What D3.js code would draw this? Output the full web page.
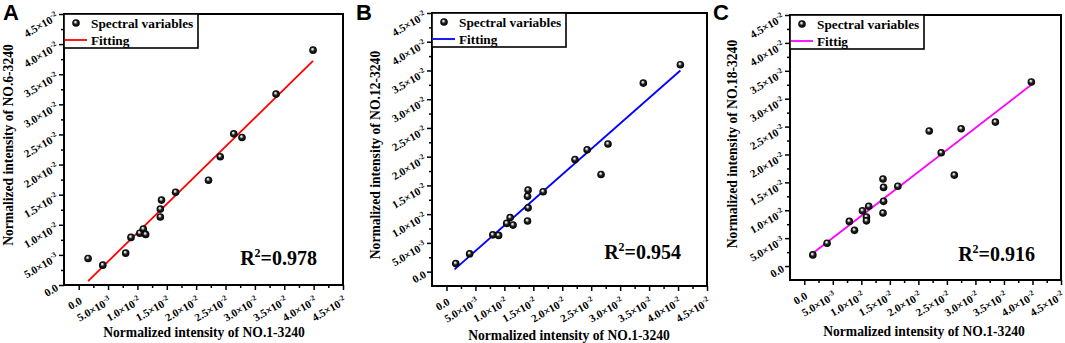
<!DOCTYPE html>
<html><head><meta charset="utf-8">
<script src="https://cdn.jsdelivr.net/npm/d3@7"></script>
<style>body{margin:0;background:#fff} svg{display:block}</style>
</head><body><svg id="c" width="1065" height="343"></svg>
<script>
// ---- data ----
const tickValues   = [0, 0.005, 0.01, 0.015, 0.02, 0.025, 0.03, 0.035, 0.04, 0.045];
const tickMantissa = ["0.0", "5.0", "1.0", "1.5", "2.0", "2.5", "3.0", "3.5", "4.0", "4.5"];
const tickExponent = ["", "-3", "-2", "-2", "-2", "-2", "-2", "-2", "-2", "-2"];

const xA = [0.0016, 0.0041, 0.0080, 0.0089, 0.0104, 0.0110, 0.0114, 0.0139, 0.0139, 0.0141, 0.0165, 0.0221, 0.0241, 0.0264, 0.0278, 0.0336, 0.0399];
const yA = [0.0044, 0.0033, 0.0053, 0.0079, 0.0086, 0.0093, 0.0084, 0.0113, 0.0126, 0.0141, 0.0154, 0.0174, 0.0213, 0.0251, 0.0245, 0.0317, 0.0390];

const xB = [0.0016, 0.0040, 0.0080, 0.0090, 0.0104, 0.0110, 0.0115, 0.0140, 0.0141, 0.0140, 0.0141, 0.0167, 0.0222, 0.0243, 0.0267, 0.0279, 0.0340, 0.0404];
const yB = [0.0014, 0.0031, 0.0064, 0.0063, 0.0084, 0.0094, 0.0081, 0.0088, 0.0111, 0.0131, 0.0142, 0.0139, 0.0195, 0.0212, 0.0169, 0.0222, 0.0328, 0.0360];

const xC = [0.0015, 0.0040, 0.0079, 0.0088, 0.0102, 0.0109, 0.0109, 0.0113, 0.0138, 0.0139, 0.0139, 0.0138, 0.0164, 0.0219, 0.0240, 0.0263, 0.0275, 0.0335, 0.0398];
const yC = [0.0020, 0.0041, 0.0080, 0.0064, 0.0099, 0.0088, 0.0081, 0.0107, 0.0095, 0.0116, 0.0141, 0.0156, 0.0143, 0.0242, 0.0203, 0.0163, 0.0246, 0.0258, 0.0330];

const fitXA = [0.0016, 0.0399], fitYA = [0.00066, 0.0372];
const fitXB = [0.0014, 0.0404], fitYB = [0.0004, 0.0350];
const fitXC = [0.0015, 0.0398], fitYC = [0.0023, 0.0325];

const yTitles = ["Normalized intensity of NO.6-3240", "Normalized intensity of NO.12-3240", "Normalized intensity of NO.18-3240"];
const xTitle = "Normalized intensity of NO.1-3240";
const fitLabels = ["Fitting", "Fitting", "Fittig"];
const r2Labels = ["0.978", "0.954", "0.916"];
const panelLetters = ["A", "B", "C"];

// ---- layout ----
const panels = [
  {x: xA, y: yA, fx: fitXA, fy: fitYA, color: "#ff0000", yDom: [0, 0.045],
   L: 64, R: 343, T: 14, B: 285, letterX: 3, ytX: 13, ytY: 145, xtX: 204, xtY: 337, r2Y: 265},
  {x: xB, y: yB, fx: fitXB, fy: fitYB, color: "#0000ff", yDom: [-0.0025, 0.045],
   L: 432, R: 707, T: 13, B: 286, letterX: 356, ytX: 380, ytY: 155, xtX: 569, xtY: 340, r2Y: 259},
  {x: xC, y: yC, fx: fitXC, fy: fitYC, color: "#ff00ff", yDom: [-0.0025, 0.045],
   L: 790, R: 1061, T: 15, B: 280, letterX: 713, ytX: 737, ytY: 144, xtX: 924, xtY: 336, r2Y: 261}
];

const svg = d3.select("#c");
const defs = svg.append("defs");
const g = defs.append("radialGradient").attr("id", "sph")
  .attr("cx", 0.5).attr("cy", 0.5).attr("r", 0.5).attr("fx", 0.4).attr("fy", 0.33);
g.append("stop").attr("offset", 0).attr("stop-color", "#ffffff");
g.append("stop").attr("offset", 0.22).attr("stop-color", "#c8c8c8");
g.append("stop").attr("offset", 0.5).attr("stop-color", "#222");
g.append("stop").attr("offset", 1).attr("stop-color", "#000");

const serif = "'Liberation Serif','Times New Roman',serif";
const minorVals = tickValues.map(v => v + 0.0025).filter(v => v < 0.045).concat([-0.0025]);

function tickLabel(sel, i) {
  sel.append("tspan").text(tickMantissa[i] === "0.0" ? "0.0" : tickMantissa[i] + "×10");
  if (tickExponent[i]) sel.append("tspan").attr("dy", -4.5).attr("font-size", 7.5).text(tickExponent[i]);
}

panels.forEach((p, pi) => {
  const x = d3.scaleLinear().domain([-0.0025, 0.045]).range([p.L, p.R]);
  const y = d3.scaleLinear().domain(p.yDom).range([p.B, p.T]);
  const gp = svg.append("g");

  // axes ticks
  const ax = gp.append("g").attr("transform", `translate(0,${p.B})`)
    .call(d3.axisBottom(x).tickValues(tickValues).tickSize(5).tickFormat(() => ""));
  const axm = gp.append("g").attr("transform", `translate(0,${p.B})`)
    .call(d3.axisBottom(x).tickValues(minorVals.filter(v => v > -0.0025)).tickSize(3).tickFormat(() => ""));
  const ay = gp.append("g").attr("transform", `translate(${p.L},0)`)
    .call(d3.axisLeft(y).tickValues(tickValues).tickSize(5).tickFormat(() => ""));
  const aym = gp.append("g").attr("transform", `translate(${p.L},0)`)
    .call(d3.axisLeft(y).tickValues(minorVals.filter(v => v > p.yDom[0])).tickSize(3).tickFormat(() => ""));
  [ax, axm, ay, aym].forEach(a => {
    a.select(".domain").remove();
    a.selectAll("line").attr("stroke", "#000").attr("stroke-width", 1.5);
  });

  // tick labels
  tickValues.forEach((v, i) => {
    const tx = gp.append("text")
      .attr("transform", `translate(${x(v) + 4},${p.B + 18}) rotate(-30)`)
      .attr("text-anchor", "end").attr("font-family", serif).attr("font-weight", "bold")
      .attr("font-size", 11).attr("fill", "#000");
    tickLabel(tx, i);
    const ty = gp.append("text")
      .attr("transform", `translate(${p.L - 5},${y(v) + 5}) rotate(-30)`)
      .attr("text-anchor", "end").attr("font-family", serif).attr("font-weight", "bold")
      .attr("font-size", 11).attr("fill", "#000");
    tickLabel(ty, i);
  });

  // fit line
  gp.append("line")
    .attr("x1", x(p.fx[0])).attr("y1", y(p.fy[0]))
    .attr("x2", x(p.fx[1])).attr("y2", y(p.fy[1]))
    .attr("stroke", p.color).attr("stroke-width", 1.8);

  // points
  gp.append("g").selectAll("circle").data(p.x.map((d, i) => [d, p.y[i]])).join("circle")
    .attr("cx", d => x(d[0])).attr("cy", d => y(d[1])).attr("r", 3.8)
    .attr("fill", "url(#sph)");

  // frame
  gp.append("rect").attr("x", p.L).attr("y", p.T).attr("width", p.R - p.L).attr("height", p.B - p.T)
    .attr("fill", "none").attr("stroke", "#000").attr("stroke-width", 2);

  // legend
  const lw = 134, lh = 34;
  const lg = gp.append("g").attr("transform", `translate(${p.L},${p.T})`);
  lg.append("rect").attr("width", lw).attr("height", lh).attr("fill", "#fff")
    .attr("stroke", "#000").attr("stroke-width", 1.6);
  lg.append("circle").attr("cx", 12).attr("cy", 9).attr("r", 3.8).attr("fill", "url(#sph)");
  lg.append("line").attr("x1", 1).attr("x2", 23).attr("y1", 26).attr("y2", 26)
    .attr("stroke", p.color).attr("stroke-width", 1.8);
  lg.append("text").attr("x", 27).attr("y", 13.5).attr("font-family", serif).attr("font-weight", "bold")
    .attr("font-size", 13.3).text("Spectral variables");
  lg.append("text").attr("x", 27).attr("y", 30.5).attr("font-family", serif).attr("font-weight", "bold")
    .attr("font-size", 13.3).text(fitLabels[pi]);

  // R^2
  const r2 = gp.append("text").attr("x", p.R - 26).attr("y", p.r2Y).attr("text-anchor", "end")
    .attr("font-family", serif).attr("font-weight", "bold").attr("font-size", 20);
  r2.append("tspan").text("R");
  r2.append("tspan").attr("dy", -8).attr("font-size", 12).text("2");
  r2.append("tspan").attr("dy", 8).text("=" + r2Labels[pi]);

  // titles
  gp.append("text").attr("x", p.xtX).attr("y", p.xtY).attr("text-anchor", "middle")
    .attr("font-family", serif).attr("font-weight", "bold").attr("font-size", 13.6).text(xTitle);
  gp.append("text").attr("transform", `translate(${p.ytX},${p.ytY}) rotate(-90)`).attr("text-anchor", "middle")
    .attr("font-family", serif).attr("font-weight", "bold").attr("font-size", 13.6).text(yTitles[pi]);

  // panel letter
  gp.append("text").attr("x", p.letterX).attr("y", 20)
    .attr("font-family", "'Liberation Sans',Arial,sans-serif").attr("font-weight", "bold")
    .attr("font-size", 22).text(panelLetters[pi]);
});
</script></body></html>
